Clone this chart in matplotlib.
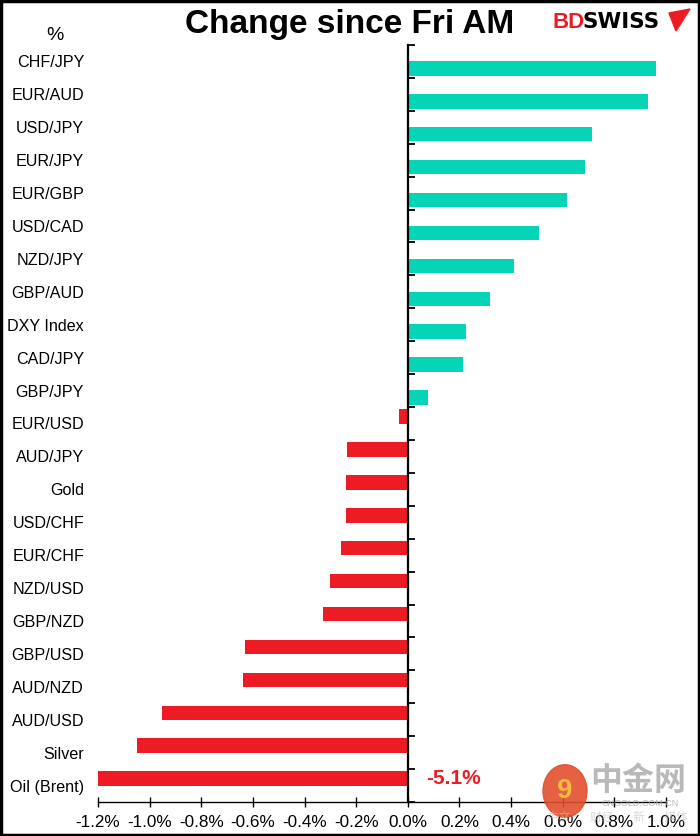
import matplotlib
matplotlib.use("Agg")
import matplotlib.pyplot as plt
import numpy as np
from matplotlib.patches import Rectangle, Circle, Polygon

plt.rcParams['font.family'] = ['Liberation Sans', 'Noto Sans CJK SC', 'DejaVu Sans']

categories = ["CHF/JPY", "EUR/AUD", "USD/JPY", "EUR/JPY", "EUR/GBP", "USD/CAD", "NZD/JPY",
              "GBP/AUD", "DXY Index", "CAD/JPY", "GBP/JPY", "EUR/USD", "AUD/JPY", "Gold",
              "USD/CHF", "EUR/CHF", "NZD/USD", "GBP/NZD", "GBP/USD", "AUD/NZD", "AUD/USD",
              "Silver", "Oil (Brent)"]
values = [0.961, 0.930, 0.713, 0.686, 0.616, 0.508, 0.411, 0.318, 0.225, 0.213, 0.078,
          -0.035, -0.236, -0.240, -0.240, -0.260, -0.302, -0.329, -0.632, -0.640, -0.953,
          -1.050, -5.1]
x_ticks = [-1.2, -1.0, -0.8, -0.6, -0.4, -0.2, 0.0, 0.2, 0.4, 0.6, 0.8, 1.0]

TEAL = "#05D4B7"
RED = "#ED1C24"

W, H = 700, 836
fig = plt.figure(figsize=(W / 100, H / 100), dpi=100)
ax = fig.add_axes([98 / W, 1 - 802 / H, (666 - 98) / W, (802 - 45) / H])

n = len(categories)
y = np.arange(n)
vals = np.array(values)
xmin, xmax = x_ticks[0], x_ticks[-1]
pos = vals >= 0
off = 0.21
h = 0.44
ax.barh(y[pos] + off, vals[pos], height=h, color=TEAL, zorder=2)
ax.barh(y[~pos] - off, np.clip(vals[~pos], xmin, None), height=h, color=RED, zorder=2)

# value label for the clipped bar
for yi, v in zip(y, vals):
    if v < xmin:
        ax.text(0.07, yi - off, f"{v:.1f}%", color=RED, fontsize=15, fontweight='bold',
                ha='left', va='center', zorder=3)

ax.set_xlim(xmin, xmax)
ax.set_ylim(n - 0.5, -0.5)

ax.set_yticks(y, minor=False)
ax.set_yticks(np.arange(n + 1) - 0.5, minor=True)
ax.set_yticklabels(categories)
ax.tick_params(axis='y', which='major', length=0, pad=10, left=True, right=False, labelsize=11.6)
ax.tick_params(axis='y', which='minor', left=False, right=True, direction='out',
               length=5, width=1.3, color='black')

ax.set_xticks(x_ticks)
ax.set_xticklabels([f"{t:.1f}%" for t in x_ticks])
ax.tick_params(axis='x', length=7, width=1, direction='inout', pad=6, labelsize=12.3)

for s in ['top', 'left']:
    ax.spines[s].set_visible(False)
ax.spines['bottom'].set_linewidth(1.0)
ax.spines['right'].set_position(('data', 0))
ax.spines['right'].set_linewidth(1.6)
ax.spines['right'].set_zorder(4)

# Title and unit
fig.text(0.5, 1 - 25 / H, "Change since Fri AM", ha='center', va='center', fontsize=24, fontweight='bold')
fig.text(55 / W, 1 - 36 / H, "%", ha='center', va='center', fontsize=14)

# BDSWISS logo
fig.text(553 / W, 1 - 22 / H, "BD", color=RED, fontsize=16, fontweight='bold', ha='left', va='center')
fig.text(583 / W, 1 - 22 / H, "SWISS", color='black', fontsize=15.5, fontweight='bold', ha='left',
         va='center', family=['DejaVu Sans'])
fig.patches.append(Polygon([[669 / W, 1 - 13 / H], [690 / W, 1 - 9 / H], [676 / W, 1 - 31 / H]],
                           closed=True, transform=fig.transFigure, color=RED))

# watermark
fig.patches.append(Circle((565 / W, 1 - 791 / H), 22 / W, transform=fig.transFigure,
                          color="#E2502C", alpha=0.9, zorder=0))
fig.text(565 / W, 1 - 791 / H, "9", color='#F8C040', fontsize=20, fontweight='bold',
         ha='center', va='center', alpha=0.95)
fig.text(638 / W, 1 - 782 / H, "中金网", color='#A8A8A8', alpha=0.8, fontsize=23, ha='center', va='center',
         fontweight='bold')
fig.text(640 / W, 1 - 804 / H, "CNGOLD.COM.CN", color='#A8A8A8', alpha=0.8, fontsize=6.5, ha='center', va='center')
fig.text(617 / W, 1 - 818 / H, "中文      财经      新      媒体", color='#C0C0C0', alpha=0.6, fontsize=8.5,
         ha='center', va='center')

# outer border
fig.patches.append(Rectangle((0.0015, 0.0015), 0.997, 0.997, transform=fig.transFigure,
                             fill=False, edgecolor='black', linewidth=2.5))

fig.savefig("out.png", dpi=100)
